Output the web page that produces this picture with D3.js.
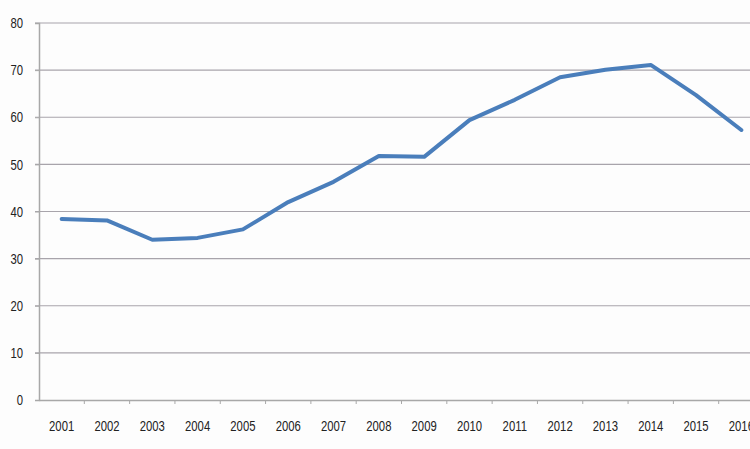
<!DOCTYPE html>
<html>
<head>
<meta charset="utf-8">
<script src="https://cdn.jsdelivr.net/npm/d3@7"></script>
<style>
  body { margin: 0; background: #fdfdfd; }
  svg { display: block; }
  .tick text { font-family: "Liberation Sans", Arial, sans-serif; font-size: 14.5px; fill: #222; }
</style>
</head>
<body>
<div id="chart"></div>
<script>
// data
const years = ["2001", "2002", "2003", "2004", "2005", "2006", "2007", "2008",
               "2009", "2010", "2011", "2012", "2013", "2014", "2015", "2016"]
const values = [38.4, 38.1, 34.0, 34.4, 36.2, 42.0, 46.3, 51.8,
                51.6, 59.4, 63.7, 68.5, 70.1, 71.1, 64.7, 57.3]
const yTicks = [0, 10, 20, 30, 40, 50, 60, 70, 80]

// dimensions
let dimensions = {
    width: 750,
    height: 449,
    margin: { top: 23, right: -14, bottom: 49, left: 39 },
}
dimensions.boundedWidth = dimensions.width - dimensions.margin.left - dimensions.margin.right
dimensions.boundedHeight = dimensions.height - dimensions.margin.top - dimensions.margin.bottom

const squeeze = 0.78 // condensed look of the original labels

const wrapper = d3.select("#chart")
    .append("svg")
    .attr("width", dimensions.width)
    .attr("height", dimensions.height)

const bounds = wrapper.append("g")
    .attr("transform", `translate(${dimensions.margin.left},${dimensions.margin.top})`)

// scales
const xScale = d3.scaleBand()
    .domain(years)
    .range([0, dimensions.boundedWidth])

const yScale = d3.scaleLinear()
    .domain([0, 80])
    .range([dimensions.boundedHeight, 0])

// gridlines
bounds.append("g")
    .selectAll("line")
    .data(yTicks.filter(d => d > 0))
    .join("line")
    .attr("x1", -4)
    .attr("x2", dimensions.boundedWidth)
    .attr("y1", d => yScale(d))
    .attr("y2", d => yScale(d))
    .attr("stroke", "#a8a4ab")
    .attr("stroke-width", 1.2)

// axes
const yAxis = bounds.append("g")
    .call(d3.axisLeft(yScale).tickValues(yTicks).tickSize(4).tickPadding(16))
yAxis.select(".domain").attr("stroke", "#a8a8a8").attr("stroke-width", 1.5)
yAxis.selectAll(".tick line").attr("stroke", "#a8a8a8")
yAxis.selectAll(".tick text")
    .attr("x", -16 / squeeze)
    .attr("transform", `scale(${squeeze},1)`)

const xAxis = bounds.append("g")
    .attr("transform", `translate(0,${dimensions.boundedHeight})`)
    .call(d3.axisBottom(xScale).tickSize(0).tickPadding(21))
xAxis.select(".domain").attr("stroke", "#a8a8a8").attr("stroke-width", 1.5)
xAxis.selectAll(".tick text")
    .attr("transform", `scale(${squeeze},1)`)

// boundary ticks between categories
xAxis.append("g")
    .selectAll("line")
    .data(years.slice(1))
    .join("line")
    .attr("x1", d => xScale(d))
    .attr("x2", d => xScale(d))
    .attr("y1", 0)
    .attr("y2", 4)
    .attr("stroke", "#a8a8a8")

// line
const lineGenerator = d3.line()
    .x((d, i) => xScale(years[i]) + xScale.bandwidth() / 2)
    .y(d => yScale(d))

bounds.append("path")
    .attr("d", lineGenerator(values))
    .attr("fill", "none")
    .attr("stroke", "#4a7ebb")
    .attr("stroke-width", 4)
    .attr("stroke-linejoin", "round")
    .attr("stroke-linecap", "round")
</script>
</body>
</html>
